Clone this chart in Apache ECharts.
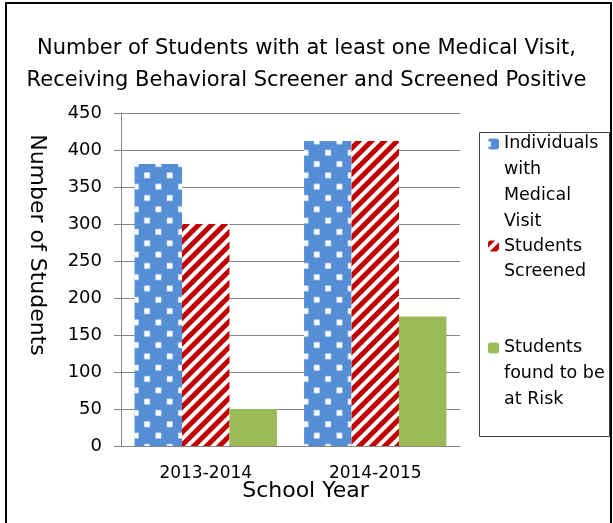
<!DOCTYPE html>
<html><head><meta charset="utf-8">
<script src="https://cdn.jsdelivr.net/npm/echarts@6/dist/echarts.min.js"></script>
<style>html,body{margin:0;padding:0;background:#fff}#c{width:613px;height:523px}</style>
</head><body><div id="c"></div>
<script>
const categories = ['2013-2014', '2014-2015'];
const medicalVisit = [381, 412];
const screened = [300, 412];
const atRisk = [50, 175];
const seriesNames = ['Individuals\nwith\nMedical\nVisit', 'Students\nScreened', 'Students\nfound to be\nat Risk'];
const titleText = 'Number of Students with at least one Medical Visit,\nReceiving Behavioral Screener and Screened Positive';
const yName = 'Number of Students';
const xName = 'School Year';

const FONT = 'DejaVu Sans';
const L = 25.7;
function legendFor(i, top) {
  const n = seriesNames[i].split('\n').length;
  return {
    data: [seriesNames[i]], left: 488, top: top, orient: 'vertical', padding: 0,
    itemWidth: 11, itemHeight: 11, selectedMode: false,
    formatter: function (name) { return '\n'.repeat(n - 1) + name; },
    textStyle: { fontFamily: FONT, fontSize: 17.5, color: '#000', lineHeight: L }
  };
}
const chart = echarts.init(document.getElementById('c'), null, { renderer: 'canvas' });
chart.setOption({
  backgroundColor: '#fff',
  animation: false,
  title: {
    text: titleText, left: 'center', top: 33, padding: 0,
    textStyle: { fontFamily: FONT, fontSize: 21, fontWeight: 'normal', color: '#000', lineHeight: 32 }
  },
  grid: { left: 121, top: 113, width: 339, height: 333, containLabel: false },
  legend: [legendFor(0, 54), legendFor(1, 207.5), legendFor(2, 283.7)],
  xAxis: {
    type: 'category', data: categories,
    name: xName, nameLocation: 'middle', nameGap: 34, nameMoveOverlap: false,
    nameTextStyle: { fontFamily: FONT, fontSize: 22, color: '#000', padding: [0, 0, 0, 30] },
    axisLine: { lineStyle: { color: '#868686', width: 1 } },
    axisTick: { length: 7, lineStyle: { color: '#868686' } },
    axisLabel: { fontFamily: FONT, fontSize: 17, color: '#000', margin: 19 }
  },
  yAxis: {
    type: 'value', min: 0, max: 450, interval: 50,
    axisLine: { show: true, lineStyle: { color: '#868686', width: 1 } },
    axisTick: { show: true, length: 7, lineStyle: { color: '#868686' } },
    axisLabel: { fontFamily: FONT, fontSize: 18, color: '#000', margin: 19 },
    splitLine: { lineStyle: { color: '#868686', width: 1 } }
  },
  series: [
    {
      name: seriesNames[0], type: 'bar', data: medicalVisit, barGap: '0%', barCategoryGap: '16%',
      itemStyle: {
        color: '#558ED5',
        decal: { symbol: 'diamond', symbolSize: 1, color: '#ffffff',
          dashArrayX: [8, 8], dashArrayY: [8, 8], rotation: Math.PI / 4 }
      }
    },
    {
      name: seriesNames[1], type: 'bar', data: screened,
      itemStyle: {
        color: '#ffffff',
        decal: { symbol: 'rect', symbolSize: 1, color: '#C00000',
          dashArrayX: [1, 0], dashArrayY: [5, 4], rotation: -Math.PI / 4 }
      }
    },
    {
      name: seriesNames[2], type: 'bar', data: atRisk,
      itemStyle: { color: '#9BBB59' }
    }
  ],
  graphic: [
    { type: 'rect', shape: { x: 6, y: 3, width: 605, height: 540 }, style: { fill: 'none', stroke: '#000', lineWidth: 2 }, silent: true, z: 100 },
    { type: 'rect', shape: { x: 479.5, y: 132.5, width: 130, height: 304 }, style: { fill: 'none', stroke: '#404040', lineWidth: 1 }, silent: true, z: 100 },
    { type: 'text', x: 37, y: 245, rotation: -Math.PI / 2, style: { text: yName, fontFamily: FONT, fontSize: 22, fill: '#000', align: 'center', verticalAlign: 'middle' }, z: 100 }
  ]
});
</script></body></html>
